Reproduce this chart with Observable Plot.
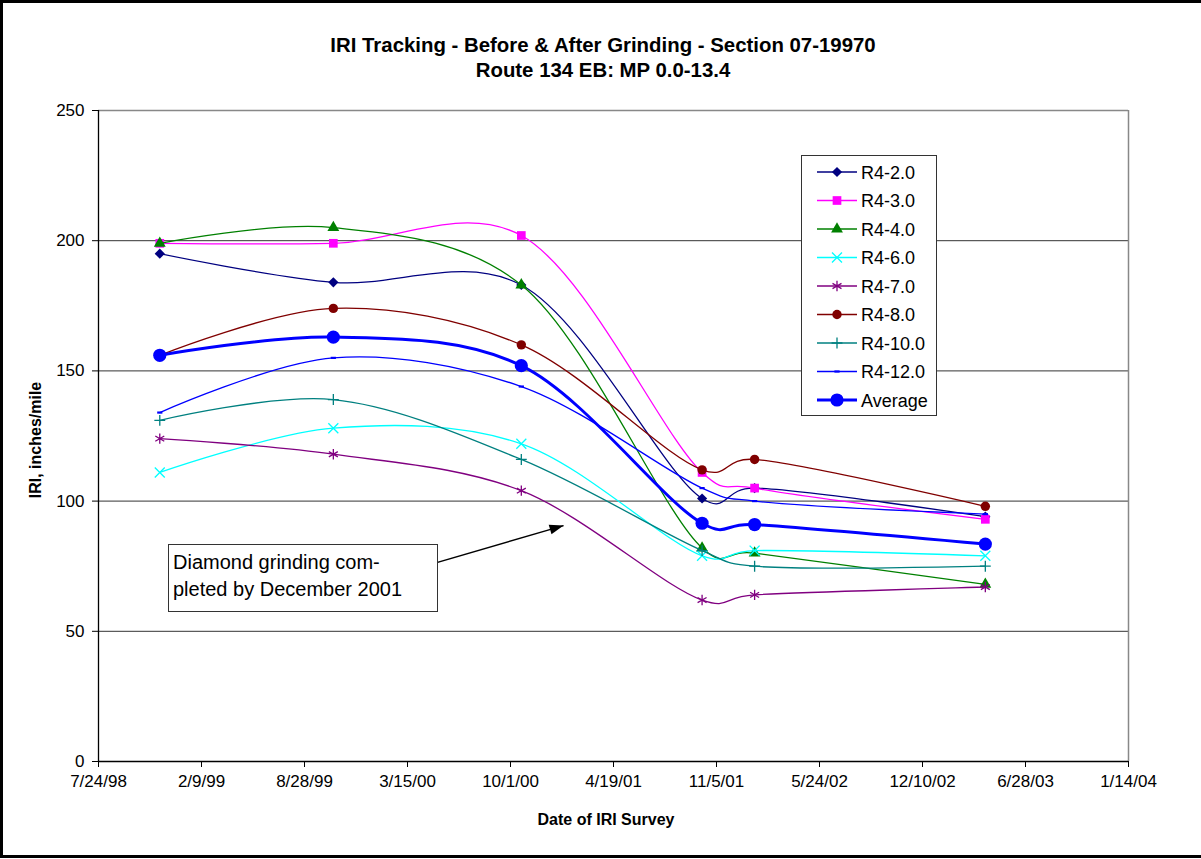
<!DOCTYPE html>
<html>
<head>
<meta charset="utf-8">
<script src="https://cdn.jsdelivr.net/npm/d3@7"></script>
<script src="https://cdn.jsdelivr.net/npm/@observablehq/plot@0.6"></script>
<style>
  html, body { margin: 0; padding: 0; background: #fff; }
  body { font-family: "Liberation Sans", Arial, sans-serif; color: #000; }
  #wrap { position: relative; width: 1201px; height: 859px; overflow: hidden; background: #fff; }
  #wrap svg.plot { position: absolute; left: 0; top: 0; }
  .abs { position: absolute; white-space: nowrap; }
  .title { left: 603px; transform: translate(-50%, -50%); font-weight: bold; font-size: 20.4px; }
  #border { left: 0; top: 0; width: 1206px; height: 858px; border: 3px solid #000; box-sizing: border-box; pointer-events: none; }
  #ytitle { left: 36px; top: 440px; transform: translate(-50%, -50%) rotate(-90deg); font-weight: bold; font-size: 16px; }
  #xtitle { left: 606px; top: 820px; transform: translate(-50%, -50%); font-weight: bold; font-size: 16px; }
  #note { left: 168px; top: 544px; width: 270px; height: 68px; border: 1.5px solid #333; box-sizing: border-box; background: #fff;
          font-size: 20px; line-height: 27px; padding: 4px 0 0 4px; white-space: normal; }
  #legend { left: 801px; top: 155px; width: 136px; height: 261px; border: 1.5px solid #333; box-sizing: border-box; background: #fff; }
</style>
</head>
<body>
<div id="wrap"></div>
<script>
// ---- data ----
const surveyDates = ["1998-11-20", "1999-10-23", "2000-10-22", "2001-10-08", "2002-01-18", "2003-04-11"];
const seriesNames = ["R4-2.0", "R4-3.0", "R4-4.0", "R4-6.0", "R4-7.0", "R4-8.0", "R4-10.0", "R4-12.0", "Average"];
const r4_2  = [195, 184, 183, 101, 105, 94];
const r4_3  = [199, 199, 202, 111, 105, 93];
const r4_4  = [199, 205, 183, 82, 80, 68];
const r4_6  = [111, 128, 122, 79, 81, 79];
const r4_7  = [124, 118, 104, 62, 64, 67];
const r4_8  = [156, 174, 160, 112, 116, 98];
const r4_10 = [131, 139, 116, 81, 75, 75];
const r4_12 = [134, 155, 144, 105, 100, 95];
const average = [156, 163, 152, 91.5, 91, 83.5];
const seriesValues = [r4_2, r4_3, r4_4, r4_6, r4_7, r4_8, r4_10, r4_12, average];

const xTickDates = ["1998-07-24", "1999-02-09", "1999-08-28", "2000-03-15", "2000-10-01", "2001-04-19",
                    "2001-11-05", "2002-05-24", "2002-12-10", "2003-06-28", "2004-01-14"];
const xTickLabels = ["7/24/98", "2/9/99", "8/28/99", "3/15/00", "10/1/00", "4/19/01",
                     "11/5/01", "5/24/02", "12/10/02", "6/28/03", "1/14/04"];
const yTicks = [0, 50, 100, 150, 200, 250];
const yGrid = [50, 100, 150, 200];

const titleLines = ["IRI Tracking - Before & After Grinding - Section 07-19970", "Route 134 EB: MP 0.0-13.4"];
const yTitle = "IRI, inches/mile";
const xTitle = "Date of IRI Survey";
const noteLines = ["Diamond grinding com-", "pleted by December 2001"];
const noteArrow = [{x1: "2000-03-25", y1: 73.7, x2: "2001-01-12", y2: 90.6}];

// ---- styling ----
const colors = ["#000080", "#FF00FF", "#008000", "#00FFFF", "#800080", "#800000", "#008080", "#0000FF", "#0000FF"];
const dash = { draw(ctx) { ctx.moveTo(-2.6, -1.1); ctx.lineTo(2.6, -1.1); ctx.lineTo(2.6, 1.1); ctx.lineTo(-2.6, 1.1); ctx.closePath(); } };
const arrowHead = { draw(ctx) { ctx.moveTo(0, 0); ctx.lineTo(5, 14); ctx.lineTo(-5, 14); ctx.closePath(); } };
const smooth = d3.curveCatmullRom.alpha(0.25);
const markers = [
  {symbol: "diamond2", r: 4.6, filled: true},
  {symbol: "square", r: 4.9, filled: true},
  {symbol: "triangle", r: 4.4, filled: true},
  {symbol: "times", r: 4.6, filled: false},
  {symbol: "asterisk", r: 4.9, filled: false},
  {symbol: "circle", r: 4.7, filled: true},
  {symbol: "plus", r: 3.6, filled: false},
  {symbol: dash, r: 3, filled: true},
  {symbol: "circle", r: 6.6, filled: true}
];

const parse = d3.utcParse("%Y-%m-%d");
const rows = [];
seriesNames.forEach((name, si) => {
  seriesValues[si].forEach((v, i) => rows.push({series: name, date: parse(surveyDates[i]), value: v}));
});
const tickDates = xTickDates.map(parse);
const tickLabelMap = new Map(tickDates.map((d, i) => [+d, xTickLabels[i]]));
const arrowData = noteArrow.map(a => ({x1: parse(a.x1), y1: a.y1, x2: parse(a.x2), y2: a.y2}));

const marks = [
  Plot.ruleY(yGrid, {stroke: "#333", strokeWidth: 1}),
  Plot.ruleY([250], {stroke: "#888", strokeWidth: 1.5}),
  Plot.ruleX([tickDates[tickDates.length - 1]], {stroke: "#888", strokeWidth: 1.5}),
  Plot.axisY({ticks: yTicks, tickSize: 6, tickPadding: 8, fontSize: 17, tickFormat: d => String(d)}),
  Plot.axisX({ticks: tickDates, tickSize: 6, tickPadding: 7, fontSize: 17, tickFormat: d => tickLabelMap.get(+d)}),
  Plot.ruleX([tickDates[0]], {stroke: "#000", strokeWidth: 1.3}),
  Plot.ruleY([0], {stroke: "#000", strokeWidth: 1.3}),
  Plot.link(arrowData, {x1: "x1", y1: "y1", x2: "x2", y2: "y2", stroke: "#000", strokeWidth: 1.4}),
  Plot.dot(arrowData, {x: "x2", y: "y2", symbol: arrowHead, r: 3, fill: "#000", stroke: "none", rotate: 73.7})
];

seriesNames.forEach((name, si) => {
  const data = rows.filter(d => d.series === name);
  const isAvg = name === "Average";
  marks.push(Plot.line(data, {x: "date", y: "value", stroke: colors[si], strokeWidth: isAvg ? 3 : 1.3, curve: smooth}));
  const m = markers[si];
  marks.push(Plot.dot(data, {
    x: "date", y: "value", symbol: m.symbol, r: m.r,
    fill: m.filled ? colors[si] : "none",
    stroke: m.filled ? "none" : colors[si],
    strokeWidth: 1.3
  }));
});

const chart = Plot.plot({
  width: 1201,
  height: 859,
  marginLeft: 98,
  marginRight: 73,
  marginTop: 110,
  marginBottom: 98,
  style: {fontFamily: "'Liberation Sans', Arial, sans-serif", fontSize: "17px", color: "#000", background: "transparent"},
  x: {type: "utc", domain: [tickDates[0], tickDates[tickDates.length - 1]], label: null},
  y: {domain: [0, 250], label: null},
  marks
});
chart.classList.add("plot");

const wrap = document.getElementById("wrap");
wrap.appendChild(chart);

function addDiv(id, cls, text) {
  const el = document.createElement("div");
  if (id) el.id = id;
  el.className = "abs " + (cls || "");
  if (text != null) el.textContent = text;
  wrap.appendChild(el);
  return el;
}
titleLines.forEach((t, i) => { const el = addDiv(null, "title", t); el.style.top = (45 + i * 25) + "px"; });
addDiv("ytitle", "", yTitle);
addDiv("xtitle", "", xTitle);
const note = addDiv("note", "", null);
noteLines.forEach(t => { const line = document.createElement("div"); line.textContent = t; note.appendChild(line); });

// legend
const legend = addDiv("legend", "", null);
const lsvg = d3.select(legend).append("svg").attr("width", 133).attr("height", 258)
  .style("position", "absolute").style("left", "0px").style("top", "0px");
const symbolMap = {
  diamond2: d3.symbolDiamond2, square: d3.symbolSquare, triangle: d3.symbolTriangle,
  times: d3.symbolTimes, asterisk: d3.symbolAsterisk, circle: d3.symbolCircle, plus: d3.symbolPlus
};
seriesNames.forEach((name, si) => {
  const y = 16 + si * 28.5;
  const g = lsvg.append("g").attr("transform", `translate(0,${y})`);
  const isAvg = name === "Average";
  g.append("line").attr("x1", 15).attr("x2", 55).attr("y1", 0).attr("y2", 0)
    .attr("stroke", colors[si]).attr("stroke-width", isAvg ? 3 : 1.3);
  const m = markers[si];
  const type = typeof m.symbol === "string" ? symbolMap[m.symbol] : m.symbol;
  g.append("path").attr("transform", "translate(35,0)")
    .attr("d", d3.symbol(type, Math.PI * m.r * m.r)())
    .attr("fill", m.filled ? colors[si] : "none")
    .attr("stroke", m.filled ? "none" : colors[si])
    .attr("stroke-width", 1.3);
  g.append("text").attr("x", 59).attr("y", 6.5).text(name)
    .attr("font-size", 18).attr("font-family", "'Liberation Sans', Arial, sans-serif").attr("fill", "#000");
});

addDiv("border", "", null);
</script>
</body>
</html>
